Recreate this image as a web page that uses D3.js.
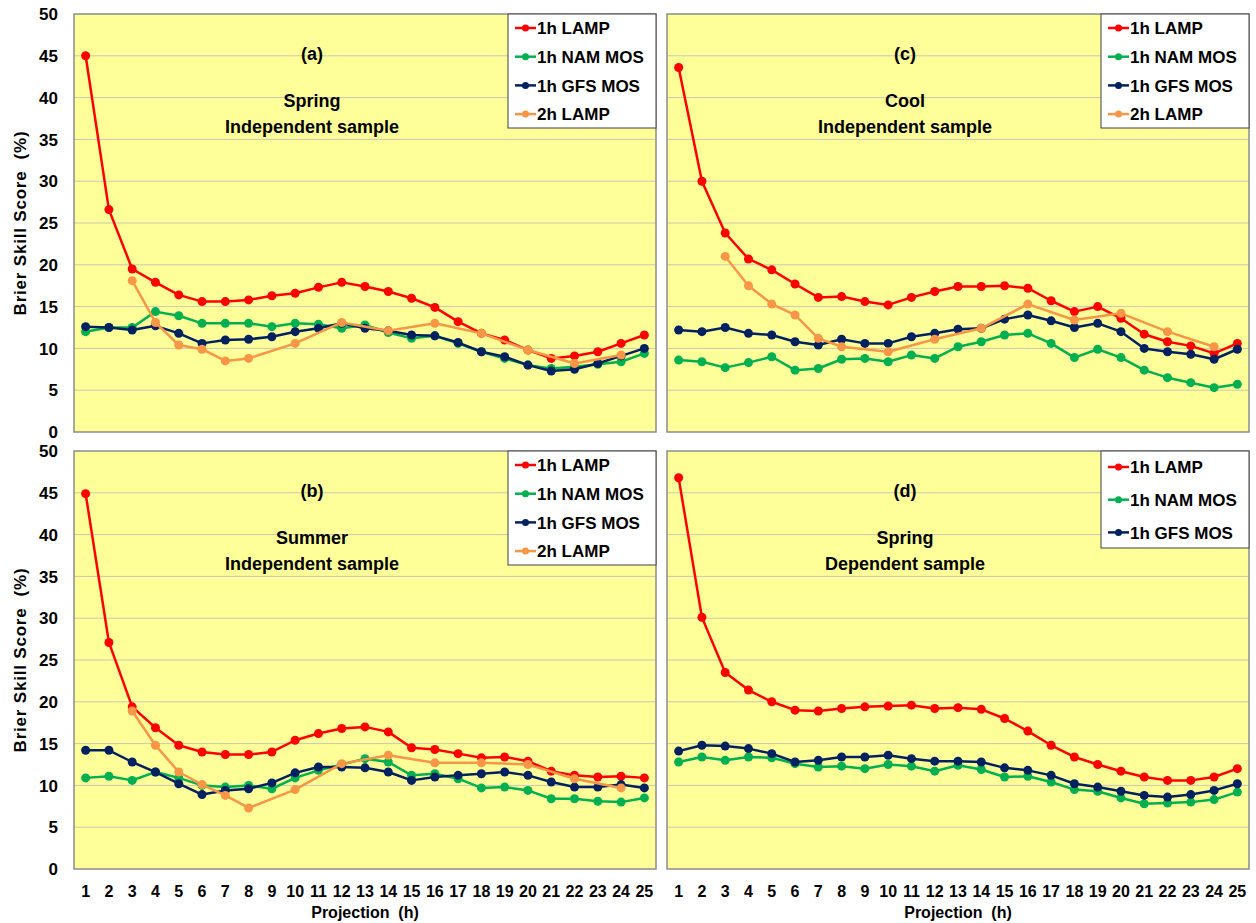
<!DOCTYPE html>
<html>
<head>
<meta charset="utf-8">
<script src="https://cdn.jsdelivr.net/npm/d3@7"></script>
<style>
  body { margin: 0; background: #fff; }
  text { font-family: "Liberation Sans", Arial, sans-serif; font-weight: bold; fill: #000; white-space: pre; }
</style>
</head>
<body>
<div id="chart"></div>
<script>
// projections (h)
const hours = [1,2,3,4,5,6,7,8,9,10,11,12,13,14,15,16,17,18,19,20,21,22,23,24,25];
const yTicks = [0,5,10,15,20,25,30,35,40,45,50];

// (a) Spring, independent sample
const springLamp1 = [45.0,26.6,19.5,17.9,16.4,15.6,15.6,15.8,16.3,16.6,17.3,17.9,17.4,16.8,16.0,14.9,13.2,11.8,11.0,9.8,8.8,9.1,9.6,10.6,11.6];
const springNam   = [12.0,12.5,12.5,14.4,13.9,13.0,13.0,13.0,12.6,13.0,12.9,12.4,12.8,11.9,11.2,11.5,10.6,9.6,8.8,8.0,7.6,7.8,8.1,8.4,9.4];
const springGfs   = [12.6,12.5,12.2,12.7,11.8,10.6,11.0,11.1,11.4,12.0,12.4,13.0,12.4,12.1,11.6,11.5,10.7,9.6,9.0,8.0,7.3,7.5,8.2,9.1,10.0];
const springLamp2 = [null,null,18.1,13.1,10.4,9.9,8.5,8.8,null,10.6,null,13.1,null,12.1,null,13.0,null,11.8,null,9.8,null,8.2,null,9.2,null];

// (b) Summer, independent sample
const summerLamp1 = [44.9,27.1,19.4,16.9,14.8,14.0,13.7,13.7,14.0,15.4,16.2,16.8,17.0,16.4,14.5,14.3,13.8,13.3,13.4,12.9,11.7,11.2,11.0,11.1,10.9];
const summerNam   = [10.9,11.1,10.6,11.6,10.9,10.0,9.8,10.0,9.6,10.9,11.8,12.5,13.2,12.8,11.2,11.4,10.8,9.7,9.8,9.4,8.4,8.4,8.1,8.0,8.5];
const summerGfs   = [14.2,14.2,12.8,11.6,10.2,8.9,9.4,9.6,10.3,11.5,12.2,12.2,12.1,11.6,10.6,11.0,11.2,11.4,11.6,11.2,10.4,9.8,9.8,10.1,9.7];
const summerLamp2 = [null,null,18.9,14.8,11.6,10.1,8.8,7.3,null,9.5,null,12.6,null,13.6,null,12.7,null,12.7,null,12.5,null,10.8,null,9.7,null];

// (c) Cool, independent sample
const coolLamp1 = [43.6,30.0,23.8,20.7,19.4,17.7,16.1,16.2,15.6,15.2,16.1,16.8,17.4,17.4,17.5,17.2,15.7,14.4,15.0,13.6,11.7,10.8,10.3,9.4,10.6];
const coolNam   = [8.6,8.4,7.7,8.3,9.0,7.4,7.6,8.7,8.8,8.4,9.2,8.8,10.2,10.8,11.6,11.8,10.6,8.9,9.9,8.9,7.4,6.5,5.9,5.3,5.7];
const coolGfs   = [12.2,12.0,12.5,11.8,11.6,10.8,10.4,11.1,10.6,10.6,11.4,11.8,12.3,12.4,13.5,14.0,13.3,12.5,13.0,12.0,10.0,9.6,9.3,8.7,9.9];
const coolLamp2 = [null,null,21.0,17.5,15.3,14.0,11.2,10.2,null,9.6,null,11.1,null,12.4,null,15.3,null,13.4,null,14.2,null,12.0,null,10.2,null];

// (d) Spring, dependent sample
const depLamp1 = [46.8,30.1,23.5,21.4,20.0,19.0,18.9,19.2,19.4,19.5,19.6,19.2,19.3,19.1,18.0,16.5,14.8,13.4,12.5,11.7,11.0,10.6,10.6,11.0,12.0];
const depNam   = [12.8,13.4,13.0,13.4,13.3,12.6,12.2,12.3,12.0,12.5,12.3,11.7,12.4,11.9,11.0,11.1,10.4,9.5,9.3,8.5,7.8,7.9,8.0,8.3,9.2];
const depGfs   = [14.1,14.8,14.7,14.4,13.8,12.8,13.0,13.4,13.4,13.6,13.2,12.9,12.9,12.8,12.1,11.8,11.2,10.2,9.8,9.3,8.8,8.6,8.9,9.4,10.2];

const seriesNames = ["1h LAMP", "1h NAM MOS", "1h GFS MOS", "2h LAMP"];
const seriesColors = ["#ff0000", "#00b050", "#002060", "#f79646"];

const panels = [
  { tag: "(a)", season: "Spring", sample: "Independent sample", series: [springLamp1, springNam, springGfs, springLamp2], left: 74, top: 14 },
  { tag: "(b)", season: "Summer", sample: "Independent sample", series: [summerLamp1, summerNam, summerGfs, summerLamp2], left: 74, top: 451 },
  { tag: "(c)", season: "Cool", sample: "Independent sample", series: [coolLamp1, coolNam, coolGfs, coolLamp2], left: 667, top: 14 },
  { tag: "(d)", season: "Spring", sample: "Dependent sample", series: [depLamp1, depNam, depGfs], left: 667, top: 451 }
];

const width = 1256, height = 923;
const plotW = 582, plotH = 418;

const svg = d3.select("#chart")
  .append("svg")
  .attr("width", width)
  .attr("height", height);

panels.forEach((p, pi) => {
  const x = d3.scaleBand().domain(hours).range([p.left, p.left + plotW]);
  const y = d3.scaleLinear().domain([0, 50]).range([p.top + plotH, p.top]);
  const cx = h => x(h) + x.bandwidth() / 2;

  const g = svg.append("g");

  // plot background
  g.append("rect")
    .attr("x", p.left).attr("y", p.top)
    .attr("width", plotW).attr("height", plotH)
    .attr("fill", "#ffff99");

  // gridlines
  g.selectAll("line.grid").data(yTicks.slice(1, -1))
    .join("line")
    .attr("x1", p.left).attr("x2", p.left + plotW)
    .attr("y1", d => y(d)).attr("y2", d => y(d))
    .attr("stroke", "#c8c8b4")
    .attr("stroke-width", 1);

  // border
  g.append("rect")
    .attr("x", p.left).attr("y", p.top)
    .attr("width", plotW).attr("height", plotH)
    .attr("fill", "none")
    .attr("stroke", "#8c8c8c")
    .attr("stroke-width", 1.5);

  // y tick labels, only on left panels
  if (p.left < 300) {
    g.selectAll("text.ytick").data(yTicks)
      .join("text")
      .attr("x", 58)
      .attr("y", d => y(d))
      .attr("dy", "0.36em")
      .attr("text-anchor", "end")
      .attr("font-size", "17px")
      .text(d => d);

    g.append("text")
      .attr("transform", `translate(26,${p.top + plotH / 2}) rotate(-90)`)
      .attr("text-anchor", "middle")
      .attr("font-size", "17px")
      .attr("letter-spacing", "0.8px")
      .text("Brier Skill Score  (%)");
  }

  // x tick labels only for bottom row
  if (p.top > 300) {
    g.selectAll("text.xtick").data(hours)
      .join("text")
      .attr("x", d => cx(d))
      .attr("y", p.top + plotH + 22)
      .attr("dy", "0.36em")
      .attr("text-anchor", "middle")
      .attr("font-size", "16px")
      .text(d => d);

    g.append("text")
      .attr("x", p.left + plotW / 2)
      .attr("y", p.top + plotH + 49)
      .attr("text-anchor", "middle")
      .attr("font-size", "16px")
      .text("Projection  (h)");
  }

  // series
  const line = d3.line().x(d => cx(d.h)).y(d => y(d.v));
  p.series.forEach((vals, si) => {
    const pts = hours.map((h, i) => ({ h, v: vals[i] })).filter(d => d.v != null);
    g.append("path")
      .datum(pts)
      .attr("d", line)
      .attr("fill", "none")
      .attr("stroke", seriesColors[si])
      .attr("stroke-width", 2.5)
      .attr("stroke-linejoin", "round");
    g.selectAll(null).data(pts)
      .join("circle")
      .attr("cx", d => cx(d.h))
      .attr("cy", d => y(d.v))
      .attr("r", 4.5)
      .attr("fill", seriesColors[si]);
  });

  // panel label
  const tx = p.left + 238;
  g.append("text").attr("x", tx).attr("y", p.top + 46).attr("text-anchor", "middle").attr("font-size", "18px").text(p.tag);
  g.append("text").attr("x", tx).attr("y", p.top + 93).attr("text-anchor", "middle").attr("font-size", "18px").text(p.season);
  g.append("text").attr("x", tx).attr("y", p.top + 119).attr("text-anchor", "middle").attr("font-size", "18px").text(p.sample);

  // legend
  const n = p.series.length;
  const lw = 148;
  const lh = n === 4 ? 114 : 97;
  const step = n === 4 ? 28.7 : 32.7;
  const lx = p.left + plotW - lw;
  const ly = p.top;
  const leg = g.append("g");
  leg.append("rect")
    .attr("x", lx).attr("y", ly)
    .attr("width", lw).attr("height", lh)
    .attr("fill", "#fff")
    .attr("stroke", "#404040")
    .attr("stroke-width", 1);
  seriesNames.slice(0, n).forEach((name, si) => {
    const yy = ly + (n === 4 ? 14 : 16) + si * step;
    leg.append("line")
      .attr("x1", lx + 7).attr("x2", lx + 28)
      .attr("y1", yy).attr("y2", yy)
      .attr("stroke", seriesColors[si])
      .attr("stroke-width", 2.5);
    leg.append("circle")
      .attr("cx", lx + 17.5).attr("cy", yy).attr("r", 3.5)
      .attr("fill", seriesColors[si]);
    leg.append("text")
      .attr("x", lx + 29).attr("y", yy)
      .attr("dy", "0.36em")
      .attr("font-size", "17px")
      .text(name);
  });
});
</script>
</body>
</html>
